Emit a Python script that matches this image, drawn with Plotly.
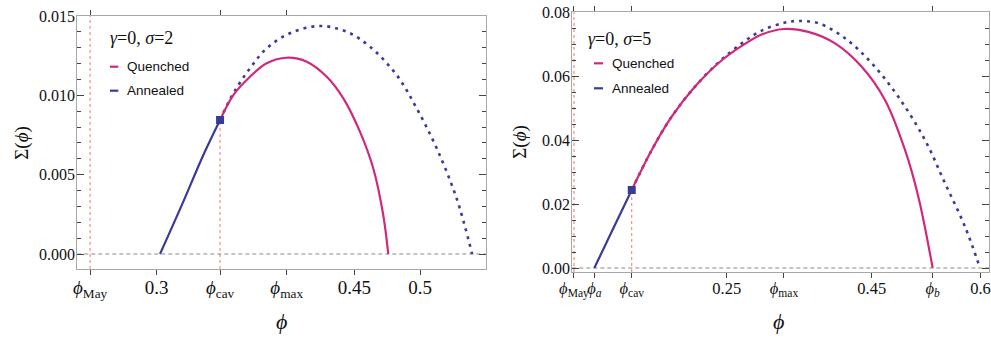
import plotly.graph_objects as go

W, H = 991, 338

# ---------------- Left panel data (gamma=0, sigma=2) ----------------
L_phi_may = 0.2494
L_phi_cav = 0.3481
L_phi_max = 0.3987
L_sig_cav = 0.00845
L_xrange = [0.2397, 0.5498]
L_yrange = [-0.000945, 0.0150]
L_xtickvals = [L_phi_may, 0.3, L_phi_cav, L_phi_max, 0.45, 0.5]
L_xticktext = ["<i>ϕ</i><sub>May</sub>", "0.3", "<i>ϕ</i><sub>cav</sub>",
               "<i>ϕ</i><sub>max</sub>", "0.45", "0.5"]
L_ytickvals = [0.0, 0.005, 0.010, 0.015]
L_yticktext = ["0.000", "0.005", "0.010", "0.015"]

L_ann_solid_phi = [0.3025, 0.3202, 0.3354, 0.3481]
L_ann_solid_sig = [0.0, 0.00330, 0.00624, 0.00845]
L_q_phi = [0.3481, 0.3582, 0.3708, 0.3835, 0.3987, 0.4139, 0.4291, 0.4417,
           0.4543, 0.4644, 0.4720, 0.4758]
L_q_sig = [0.00845, 0.01002, 0.01117, 0.01202, 0.01237, 0.01212, 0.01117,
           0.00981, 0.00771, 0.00540, 0.00246, 0.0]
L_dot_phi = [0.3481, 0.3582, 0.3708, 0.3835, 0.4012, 0.4240, 0.4442, 0.4619,
             0.4822, 0.4974, 0.5126, 0.5277, 0.5395]
L_dot_sig = [0.00845, 0.01013, 0.01170, 0.01296, 0.01391, 0.01437, 0.01401,
             0.01307, 0.01128, 0.00918, 0.00666, 0.00351, 0.0]

# ---------------- Right panel data (gamma=0, sigma=5) ----------------
R_phi_may = 0.0393
R_phi_a = 0.0674
R_phi_cav = 0.1190
R_phi_max = 0.3290
R_phi_b = 0.5341
R_sig_cav = 0.0244
R_xrange = [0.0370, 0.6122]
R_yrange = [-0.00125, 0.0801]
R_xtickvals = [R_phi_may, R_phi_a, R_phi_cav, 0.25, R_phi_max, 0.45, R_phi_b, 0.6]
R_xticktext = ["<i>ϕ</i><sub>May</sub>", "<i>ϕ<sub>a</sub></i>", "<i>ϕ</i><sub>cav</sub>",
               "0.25", "<i>ϕ</i><sub>max</sub>", "0.45", "<i>ϕ<sub>b</sub></i>", "0.6"]
R_ytickvals = [0.0, 0.02, 0.04, 0.06, 0.08]
R_yticktext = ["0.00", "0.02", "0.04", "0.06", "0.08"]

R_ann_solid_phi = [0.0674, 0.0936, 0.1190]
R_ann_solid_sig = [0.0, 0.0124, 0.0244]
R_q_phi = [0.1190, 0.1466, 0.1741, 0.2063, 0.2384, 0.2707, 0.2983, 0.3290,
           0.3626, 0.3994, 0.4362, 0.4683, 0.4959, 0.5143, 0.5341]
R_q_sig = [0.0244, 0.0369, 0.0473, 0.0567, 0.0640, 0.0694, 0.0730, 0.0747,
           0.0738, 0.0702, 0.0629, 0.0525, 0.0369, 0.0223, 0.0]
R_dot_phi = [0.1190, 0.1466, 0.1741, 0.2063, 0.2384, 0.2707, 0.2983, 0.3304,
             0.3488, 0.3763, 0.4132, 0.4500, 0.4867, 0.5235, 0.5511, 0.5787, 0.5994]
R_dot_sig = [0.0244, 0.0369, 0.0473, 0.0567, 0.0642, 0.0702, 0.0742, 0.0767,
             0.0772, 0.0765, 0.0718, 0.0640, 0.0535, 0.0400, 0.0265, 0.0129, 0.0]

# ---------------- styles ----------------
PINK = "#d2287c"
BLUE = "#3a3a98"
REF = "#ee7a66"
ZERO = "#8a8a8a"
FRAME = "#a8a8a8"
TICK = "#444444"
SERIF = "Liberation Serif, Times New Roman, DejaVu Serif, serif"
SANS = "Liberation Sans, Arial, sans-serif"


def px_x(p):
    return p / W


def px_y(p):
    return 1 - p / H


fig = go.Figure()


def add_panel(xa, ya, xa_top, xr, yr, phi_may, phi_cav, sig_cav,
              sp, ss, qp, qs, dp, ds):
    fig.add_trace(go.Scatter(x=xr, y=[0, 0], mode="lines", xaxis=xa, yaxis=ya,
                             line=dict(color=ZERO, width=1, dash="4px,3px"),
                             showlegend=False, hoverinfo="skip"))
    fig.add_trace(go.Scatter(x=[phi_may, phi_may], y=yr, mode="lines", xaxis=xa_top, yaxis=ya,
                             line=dict(color=REF, width=1, dash="3px,3px"),
                             showlegend=False, hoverinfo="skip"))
    fig.add_trace(go.Scatter(x=[phi_cav, phi_cav], y=[yr[0], sig_cav], mode="lines",
                             xaxis=xa, yaxis=ya,
                             line=dict(color=REF, width=1, dash="3px,3px"),
                             showlegend=False, hoverinfo="skip"))
    fig.add_trace(go.Scatter(x=dp, y=ds, mode="lines", xaxis=xa, yaxis=ya,
                             line=dict(color=BLUE, width=2.6, dash="3px,5px", shape="spline"),
                             name="Annealed", showlegend=False))
    fig.add_trace(go.Scatter(x=qp, y=qs, mode="lines", xaxis=xa, yaxis=ya,
                             line=dict(color=PINK, width=2.2, shape="spline"),
                             name="Quenched", showlegend=False))
    fig.add_trace(go.Scatter(x=sp, y=ss, mode="lines", xaxis=xa, yaxis=ya,
                             line=dict(color=BLUE, width=2.2, shape="spline"),
                             name="Annealed", showlegend=False))
    fig.add_trace(go.Scatter(x=[phi_cav], y=[sig_cav], mode="markers", xaxis=xa, yaxis=ya,
                             marker=dict(symbol="square", size=8, color=BLUE),
                             showlegend=False))


add_panel("x", "y", "x3", L_xrange, L_yrange, L_phi_may, L_phi_cav, L_sig_cav,
          L_ann_solid_phi, L_ann_solid_sig, L_q_phi, L_q_sig, L_dot_phi, L_dot_sig)
add_panel("x2", "y2", "x4", R_xrange, R_yrange, R_phi_may, R_phi_cav, R_sig_cav,
          R_ann_solid_phi, R_ann_solid_sig, R_q_phi, R_q_sig, R_dot_phi, R_dot_sig)

L_dom_x = [px_x(77.3), px_x(485.7)]
L_dom_y = [px_y(269), px_y(16)]
R_dom_x = [px_x(572.3), px_x(989.3)]
R_dom_y = [px_y(272), px_y(11.7)]


def xaxis_bottom(dom, rng, vals, text, anchor, fsize):
    return dict(domain=dom, range=rng, anchor=anchor, tickmode="array", tickvals=vals,
                ticktext=text, ticks="outside", ticklen=5, tickcolor=TICK, tickangle=0,
                ticklabelstandoff=-4, ticklabeloverflow="allow",
                showline=True, linecolor=FRAME, linewidth=1, mirror=False,
                showgrid=False, zeroline=False, automargin=False,
                tickfont=dict(family=SERIF, size=fsize, color="#111"))


def xaxis_top(rng, vals, overlay, anchor):
    return dict(range=rng, overlaying=overlay, side="top", anchor=anchor,
                tickmode="array", tickvals=vals, showticklabels=False,
                ticks="outside", ticklen=5, tickcolor=TICK,
                showline=True, linecolor=FRAME, linewidth=1, automargin=False,
                showgrid=False, zeroline=False)


def yaxis(dom, rng, vals, text, minor_dt, anchor):
    return dict(domain=dom, range=rng, anchor=anchor, tickmode="array", tickvals=vals,
                ticktext=text, ticks="inside", ticklen=7, tickcolor=TICK,
                ticklabelstandoff=-2,
                minor=dict(tickmode="linear", tick0=0, dtick=minor_dt, ticks="inside",
                           ticklen=4, tickcolor=TICK, showgrid=False),
                showline=True, linecolor=FRAME, linewidth=1, mirror="ticks",
                showgrid=False, zeroline=False, automargin=False,
                tickfont=dict(family=SERIF, size=16, color="#111"))


fig.update_layout(
    template="none",
    width=W, height=H, margin=dict(l=0, r=0, t=0, b=0, pad=0),
    paper_bgcolor="white", plot_bgcolor="white",
    xaxis=xaxis_bottom(L_dom_x, L_xrange, L_xtickvals, L_xticktext, "y", 19),
    xaxis3=xaxis_top(L_xrange, [L_phi_may, L_phi_cav, L_phi_max], "x", "y"),
    yaxis=yaxis(L_dom_y, L_yrange, L_ytickvals, L_yticktext, 0.001, "x"),
    xaxis2=xaxis_bottom(R_dom_x, R_xrange, R_xtickvals, R_xticktext, "y2", 16.5),
    xaxis4=xaxis_top(R_xrange, [R_phi_may, R_phi_a, R_phi_cav, R_phi_max, R_phi_b], "x2", "y2"),
    yaxis2=yaxis(R_dom_y, R_yrange, R_ytickvals, R_yticktext, 0.005, "x2"),
    showlegend=False,
)

annotations = []
for (x, y) in [(281.7, 321), (778, 321)]:
    annotations.append(dict(x=px_x(x), y=px_y(y), xref="paper", yref="paper",
                            xanchor="center", yanchor="middle",
                            text="<i>ϕ</i>", showarrow=False,
                            font=dict(family=SERIF, size=22, color="#111")))
for (x, y) in [(21.7, 143), (520, 141.7)]:
    annotations.append(dict(x=px_x(x), y=px_y(y), xref="paper", yref="paper",
                            xanchor="center", yanchor="middle",
                            text="Σ(<i>ϕ</i>)", textangle=-90, showarrow=False,
                            font=dict(family=SERIF, size=19, color="#111")))
annotations.append(dict(x=px_x(108), y=px_y(38), xref="paper", yref="paper",
                        xanchor="left", yanchor="middle",
                        text="<i>γ</i>=0, <i>σ</i>=2", showarrow=False,
                        font=dict(family=SERIF, size=18, color="#111")))
annotations.append(dict(x=px_x(586), y=px_y(39.3), xref="paper", yref="paper",
                        xanchor="left", yanchor="middle",
                        text="<i>γ</i>=0, <i>σ</i>=5", showarrow=False,
                        font=dict(family=SERIF, size=18, color="#111")))

shapes = []
legend_rows = [
    (110, 118.3, 125, 66.7, "Quenched", PINK),
    (110, 118.3, 125, 90.7, "Annealed", BLUE),
    (594, 603, 610, 63.3, "Quenched", PINK),
    (594, 603, 610, 88.3, "Annealed", BLUE),
]
for x0, x1, xt, yy, label, col in legend_rows:
    shapes.append(dict(type="line", xref="paper", yref="paper",
                       x0=px_x(x0), x1=px_x(x1), y0=px_y(yy), y1=px_y(yy),
                       line=dict(color=col, width=2.2)))
    annotations.append(dict(x=px_x(xt), y=px_y(yy), xref="paper", yref="paper",
                            xanchor="left", yanchor="middle", text=label, showarrow=False,
                            font=dict(family=SANS, size=13.5, color="#111")))

fig.update_layout(annotations=annotations, shapes=shapes)

fig.write_html("out.html", config={"displayModeBar": False},
               post_script="document.body.style.margin='0';document.body.style.padding='0';")
